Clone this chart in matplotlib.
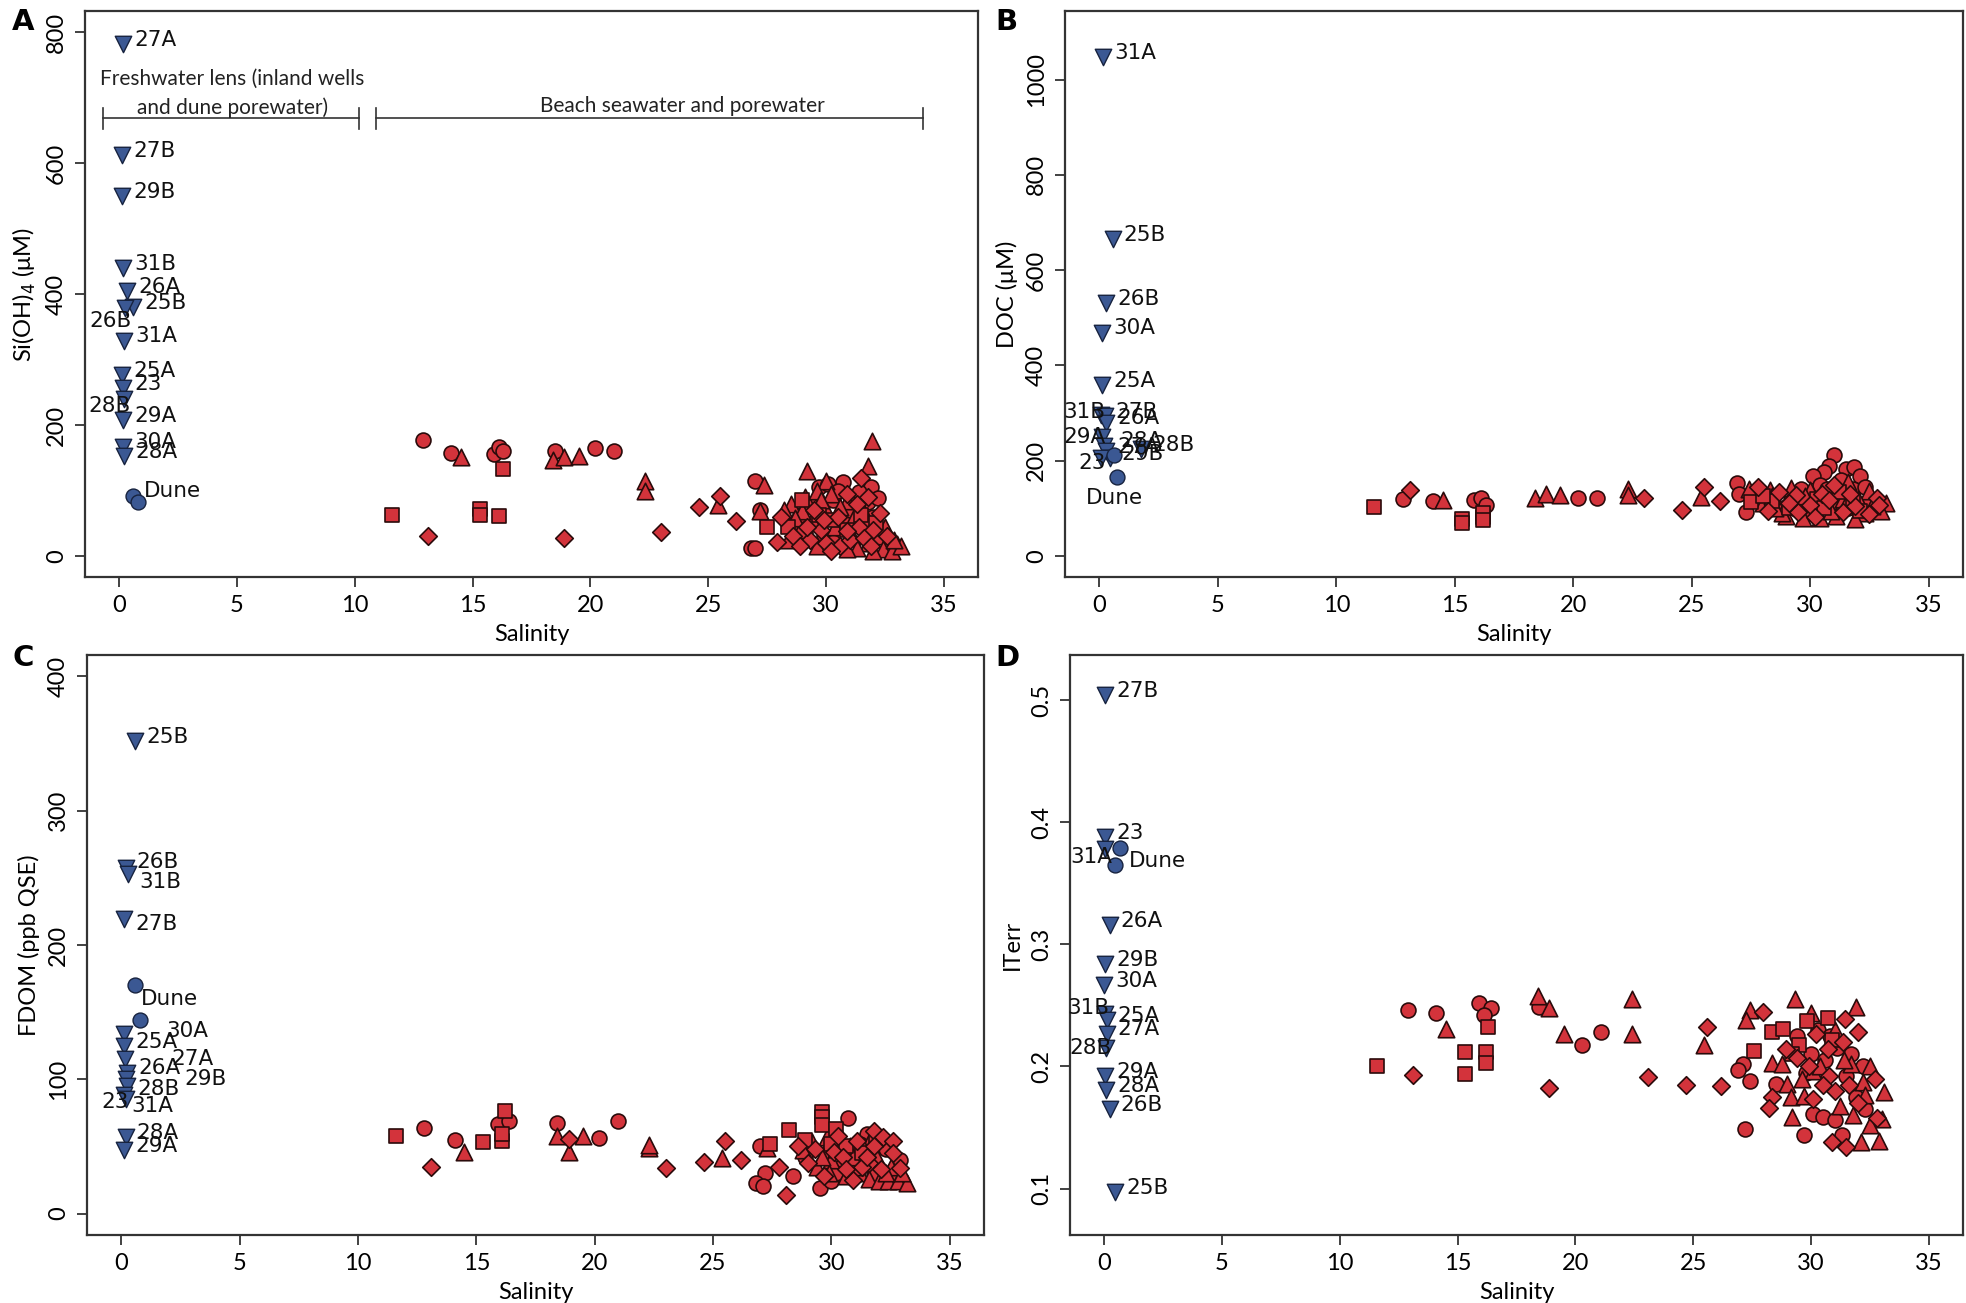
import matplotlib
matplotlib.use("Agg")
import matplotlib.pyplot as plt

# ---- data (salinity, value) ----
# Panel A: Si(OH)4
a_wells = ["27A", "27B", "29B", "31B", "26A", "25B", "26B", "31A", "25A", "23", "28B", "29A", "30A", "28A"]
a_well_sal = [0.16, 0.14, 0.14, 0.18, 0.35, 0.6, 0.25, 0.2, 0.14, 0.18, 0.2, 0.16, 0.16, 0.2]
a_well_val = [782, 612, 549, 439, 404, 380, 378, 329, 276, 256, 240, 208, 167, 153]
a_dune_sal = [0.58, 0.79]
a_dune_val = [91, 83]
a_circles = [(12.9, 177), (14.1, 158), (15.9, 155), (16.1, 166), (16.3, 160), (18.5, 161), (20.2, 165),
             (21.0, 161), (27.0, 114), (27.2, 70), (26.8, 13), (27.0, 13), (29.7, 105), (30.7, 113),
             (31.2, 90), (29.3, 78), (30.3, 85), (31.8, 82), (32.0, 60), (28.7, 50), (30.8, 50),
             (29.9, 30), (31.9, 105), (30.1, 110), (31.0, 70), (28.9, 62), (30.5, 100), (31.4, 98),
             (32.2, 88), (29.1, 35), (30.3, 22), (31.7, 45)]
a_triangles = [(14.5, 151), (18.4, 146), (18.9, 151), (19.5, 152), (22.3, 115), (22.3, 100), (27.35, 108),
               (25.4, 78), (27.2, 68), (29.2, 130), (30.0, 114), (31.95, 175), (31.8, 137), (28.5, 80),
               (29.1, 90), (29.6, 100), (30.2, 95), (30.9, 84), (31.5, 75), (32.2, 30), (32.6, 15),
               (33.0, 18), (32.4, 10), (32.8, 8), (31.8, 20), (30.4, 45), (29.4, 55), (28.9, 40),
               (31.1, 30), (31.7, 55), (28.2, 70), (30.0, 70), (29.0, 68), (31.3, 12), (32.0, 8),
               (28.7, 58), (29.8, 85), (30.6, 75), (31.2, 60), (32.5, 45), (33.2, 15), (32.9, 25),
               (30.9, 10), (29.6, 15), (28.4, 25)]
a_squares = [(16.3, 133), (11.6, 63), (15.3, 72), (15.3, 63), (16.1, 61), (27.5, 45), (29.0, 85),
             (30.3, 55), (31.5, 62), (28.4, 45), (32.1, 50), (30.9, 40), (29.7, 62)]
a_diamonds = [(13.1, 30), (18.9, 27), (23.0, 37), (24.6, 75), (25.5, 92), (26.2, 53), (27.9, 22),
              (31.5, 119), (28.1, 60), (28.6, 30), (29.3, 25), (30.0, 20), (30.6, 15), (31.0, 25),
              (29.8, 40), (30.5, 60), (31.4, 45), (32.0, 40), (29.5, 70), (28.9, 15), (31.8, 90),
              (30.9, 95), (32.3, 65), (31.6, 28), (29.9, 55), (30.9, 38), (31.9, 15), (32.6, 30),
              (29.2, 45), (30.2, 8), (31.3, 80)]

# Panel B: DOC
b_wells = ["31A", "25B", "26B", "30A", "25A", "31B", "27B", "26A", "29A", "28A", "28B", "27A", "29B", "23"]
b_well_sal = [0.17, 0.56, 0.28, 0.11, 0.11, 0.08, 0.22, 0.3, 0.1, 0.2, 1.75, 0.28, 0.45, 0.08]
b_well_val = [1047, 666, 531, 469, 358, 297, 293, 280, 250, 232, 225, 220, 205, 205]
b_dune_sal = [0.6, 0.76]
b_dune_val = [212, 165]
b_circles = [(12.8, 120), (14.1, 115), (15.8, 117), (16.1, 121), (16.3, 108), (20.2, 121), (21.0, 121),
             (26.9, 154), (27.0, 131), (27.3, 92), (31.0, 212), (30.8, 190), (31.5, 183), (31.85, 186),
             (30.6, 176), (30.1, 168), (32.1, 168), (30.4, 150), (31.3, 160), (29.6, 140), (31.8, 140),
             (30.9, 125), (29.2, 118), (32.4, 110), (28.6, 100), (30.2, 95), (31.6, 100), (29.9, 115),
             (31.1, 105), (32.3, 145), (30.7, 140), (29.4, 98)]
b_triangles = [(14.5, 117), (18.4, 122), (18.85, 131), (19.45, 128), (22.3, 140), (22.3, 128), (25.4, 124),
               (27.4, 140), (28.3, 138), (29.2, 142), (30.0, 138), (31.6, 155), (32.5, 136), (33.2, 111),
               (32.3, 90), (29.9, 93), (29.0, 83), (28.0, 112), (30.6, 110), (31.1, 85), (29.5, 108),
               (32.8, 100), (31.9, 78), (30.4, 80), (28.8, 90), (31.4, 120), (32.0, 120), (29.8, 125),
               (33.0, 95), (28.5, 100), (29.7, 80), (30.9, 95), (32.6, 105), (31.5, 110), (28.4, 125)]
b_squares = [(11.6, 102), (15.3, 78), (15.3, 69), (16.2, 81), (16.2, 90), (16.2, 76), (27.5, 113),
             (28.4, 115), (30.3, 120), (31.2, 135), (29.1, 100), (32.1, 95), (28.0, 125), (30.6, 100),
             (31.8, 115)]
b_diamonds = [(13.1, 138), (23.0, 121), (24.6, 97), (25.5, 145), (26.2, 116), (27.8, 145), (28.7, 135),
              (31.0, 149), (31.4, 93), (32.8, 121), (29.4, 128), (30.5, 130), (28.2, 95), (31.9, 105),
              (30.0, 108), (32.5, 88), (29.5, 92), (29.1, 112), (30.8, 118), (31.7, 130), (32.9, 108),
              (30.2, 82)]

# Panel C: FDOM
c_wells = ["25B", "26B", "31B", "27B", "30A", "25A", "27A", "26A", "29B", "28B", "23", "31A", "28A", "29A"]
c_well_sal = [0.58, 0.18, 0.28, 0.13, 0.13, 0.13, 0.17, 0.25, 0.2, 0.22, 0.12, 0.2, 0.18, 0.13]
c_well_val = [352, 257, 253, 219, 134, 125, 115, 105, 100, 95, 88, 85, 57, 47]
c_dune_sal = [0.58, 0.79]
c_dune_val = [170, 144]
c_circles = [(12.8, 64), (14.1, 55), (15.9, 67), (16.4, 68.6), (18.4, 67.6), (20.2, 56), (21.0, 69),
             (27.0, 50), (27.2, 30), (26.8, 22.6), (27.1, 20.6), (28.4, 28), (29.5, 19), (30.0, 24),
             (30.7, 71), (31.5, 59), (29.8, 45), (31.0, 40), (32.3, 48), (30.4, 35), (31.8, 30),
             (28.9, 42), (32.9, 40), (31.2, 52), (30.2, 30), (32.6, 27)]
c_triangles = [(14.5, 46), (18.4, 58), (19.5, 58), (18.9, 46), (22.3, 48.6), (22.3, 51), (25.4, 41.5),
               (27.3, 49), (29.2, 53), (31.7, 58), (29.8, 57), (30.0, 40), (30.8, 50), (31.2, 30),
               (31.6, 26), (32.0, 24), (32.4, 24), (32.8, 24), (33.2, 23), (31.9, 43), (29.4, 35),
               (30.6, 28), (28.8, 47), (32.5, 35), (31.4, 48), (33.0, 30), (29.9, 30), (30.2, 48),
               (31.0, 35), (32.3, 30), (29.6, 42), (30.9, 42)]
c_squares = [(11.6, 58), (15.3, 53.5), (16.2, 76.5), (16.1, 54), (16.1, 59), (27.4, 52), (28.2, 62),
             (29.6, 75.7), (29.6, 72), (29.6, 65.6), (30.2, 63), (28.9, 55), (30.6, 50), (31.3, 45),
             (31.9, 55), (30.0, 52)]
c_diamonds = [(13.1, 35), (18.9, 55.5), (23.0, 34), (24.6, 38.5), (25.5, 54), (26.2, 40), (27.8, 35),
              (28.1, 14), (30.3, 57.5), (31.1, 54), (31.8, 61.8), (32.2, 57), (32.6, 54), (29.0, 38),
              (30.1, 46), (31.6, 38), (32.1, 33), (30.9, 25), (29.7, 28), (32.6, 45), (31.3, 35),
              (28.6, 50), (30.5, 42), (30.6, 33), (31.8, 50), (29.3, 48), (32.9, 34), (31.5, 42)]

# Panel D: ITerr
d_wells = ["27B", "23", "31A", "26A", "29B", "30A", "31B", "25A", "27A", "28B", "29A", "28A", "26B", "25B"]
d_well_sal = [0.03, 0.03, 0.05, 0.23, 0.03, 0.0, 0.03, 0.1, 0.1, 0.06, 0.03, 0.07, 0.23, 0.47]
d_well_val = [0.504, 0.388, 0.378, 0.316, 0.284, 0.267, 0.243, 0.238, 0.227, 0.215, 0.192, 0.181, 0.165, 0.097]
d_dune_sal = [0.68, 0.47]
d_dune_val = [0.379, 0.365]
d_circles = [(12.9, 0.246), (14.1, 0.244), (15.9, 0.252), (16.4, 0.248), (16.1, 0.242), (18.45, 0.249),
             (20.3, 0.218), (21.1, 0.228), (27.1, 0.202), (26.9, 0.197), (27.4, 0.188), (27.2, 0.149),
             (28.5, 0.186), (29.7, 0.144), (30.1, 0.161), (30.5, 0.159), (31.0, 0.156), (31.3, 0.144),
             (32.2, 0.2), (29.4, 0.225), (30.0, 0.21), (30.6, 0.205), (31.1, 0.215), (29.8, 0.195),
             (31.5, 0.192), (30.3, 0.23), (31.9, 0.175), (32.3, 0.165), (30.8, 0.225), (31.7, 0.21)]
d_triangles = [(14.5, 0.231), (18.4, 0.258), (18.9, 0.248), (19.5, 0.227), (22.4, 0.255), (22.4, 0.227),
               (25.45, 0.218), (27.4, 0.246), (27.25, 0.238), (29.3, 0.255), (30.0, 0.244), (31.9, 0.249),
               (28.35, 0.203), (28.75, 0.202), (29.0, 0.186), (29.15, 0.175), (29.2, 0.159), (29.7, 0.176),
               (31.25, 0.168), (33.1, 0.179), (32.1, 0.138), (32.9, 0.139), (32.2, 0.187), (33.0, 0.157),
               (32.5, 0.152), (30.1, 0.196), (31.7, 0.202), (30.4, 0.2), (31.4, 0.205), (29.6, 0.19),
               (32.5, 0.2), (31.8, 0.16), (31.0, 0.23), (32.3, 0.177)]
d_squares = [(11.6, 0.2), (15.3, 0.212), (16.2, 0.212), (16.2, 0.203), (15.3, 0.194), (16.3, 0.232),
             (27.6, 0.213), (28.35, 0.228), (28.8, 0.231), (30.7, 0.24), (29.85, 0.237), (29.5, 0.218),
             (29.2, 0.21), (30.9, 0.222)]
d_diamonds = [(13.1, 0.193), (18.9, 0.182), (23.1, 0.191), (24.7, 0.185), (26.2, 0.184), (25.6, 0.232),
              (27.95, 0.245), (28.35, 0.175), (28.2, 0.166), (30.1, 0.173), (31.0, 0.18), (30.9, 0.138),
              (31.5, 0.134), (31.45, 0.239), (32.0, 0.228), (32.7, 0.19), (32.0, 0.17), (28.95, 0.214),
              (29.4, 0.207), (30.7, 0.214), (31.35, 0.22), (30.2, 0.227), (30.75, 0.192), (32.8, 0.158),
              (31.6, 0.185), (29.9, 0.2), (30.5, 0.185)]

# ---- label placement (offset in points, alignment) ----
R = (8, 3, "left")
a_lab = {"26B": (5, -9, "right"), "28B": (5, -5, "right")}
b_lab = {"31B": (3, 2, "right"), "29A": (3, 0, "right"), "23": (3, -3, "right"), "28A": (12, 3, "left")}
c_lab = {"26B": (8, 5, "left"), "31B": (8, -6, "left"), "27B": (8, -3, "left"), "30A": (30, 2, "left"),
         "27A": (33, 0, "left"), "29B": (42, 0, "left"), "28B": (8, -2, "left"),
         "23": (3, -5, "right"), "31A": (4, -5, "left")}
d_lab = {"31A": (5, -6, "right"), "31B": (3, 4, "right"), "28B": (4, 0, "right")}

RED = "#d3333b"
RED_EDGE = "#2a0b0b"
BLUE = "#3b5893"
BLUE_EDGE = "#17233f"
AXFONT = ["Lato", "DejaVu Sans"]

fig = plt.figure(figsize=(19.66, 13.03), dpi=100)
W, H = 1966, 1303


def box(l, t, r, b):
    return [l / W, 1 - b / H, (r - l) / W, (b - t) / H]


def panel(pos, circles, tris, squares, diamonds, wells, wsal, wval, dsal, dval, lab, ylim, yticks, ylabel):
    ax = fig.add_axes(pos)
    for pts, m, s in [(circles, "o", 115), (tris, "^", 140), (squares, "s", 95), (diamonds, "D", 80)]:
        x = [p[0] for p in pts]
        y = [p[1] for p in pts]
        ax.scatter(x, y, marker=m, s=s, c=RED, edgecolors=RED_EDGE, linewidths=1.2, zorder=3)
    ax.scatter(wsal, wval, marker="v", s=140, c=BLUE, edgecolors=BLUE_EDGE, linewidths=1.0, zorder=4)
    ax.scatter(dsal, dval, marker="o", s=115, c=BLUE, edgecolors=BLUE_EDGE, linewidths=1.0, zorder=4)
    for name, x, y in zip(wells, wsal, wval):
        dx, dy, ha = lab.get(name, R)
        ax.annotate(name, (x, y), xytext=(dx, dy), textcoords="offset points",
                    ha=ha, va="center", fontsize=15.5, color="#111111", zorder=5)
    ax.set_xlim(-1.45, 36.45)
    ax.set_ylim(*ylim)
    ax.set_xticks([0, 5, 10, 15, 20, 25, 30, 35])
    ax.set_yticks(yticks)
    ax.tick_params(labelsize=17, length=7, width=1.3, color="#333333", pad=6)
    for lbl in ax.get_xticklabels() + ax.get_yticklabels():
        lbl.set_family(AXFONT)
    for lbl in ax.get_yticklabels():
        lbl.set_rotation(90)
        lbl.set_va("center")
    for sp in ax.spines.values():
        sp.set_color("#333333")
        sp.set_linewidth(1.6)
    ax.set_ylabel(ylabel, fontsize=17, labelpad=6, family=AXFONT)
    ax.set_xlabel("Salinity", fontsize=17, labelpad=6, family=AXFONT)
    return ax


axA = panel(box(85, 11, 978, 577), a_circles, a_triangles, a_squares, a_diamonds,
            a_wells, a_well_sal, a_well_val, a_dune_sal, a_dune_val, a_lab,
            (-32, 832), [0, 200, 400, 600, 800], "Si(OH)$_4$ (μM)")
axA.annotate("Dune", (a_dune_sal[0], a_dune_val[0]), xytext=(8, 4), textcoords="offset points",
             ha="left", va="center", fontsize=15.5, color="#111111")
# group brackets
for x0, x1 in [(-0.7, 10.2), (10.9, 34.1)]:
    axA.plot([x0, x1], [668, 668], color="#333333", lw=1.2)
    axA.plot([x0, x0], [652, 684], color="#333333", lw=1.2)
    axA.plot([x1, x1], [652, 684], color="#333333", lw=1.2)
axA.text(4.8, 728, "Freshwater lens (inland wells", ha="center", va="center", fontsize=15, color="#222222", family=AXFONT)
axA.text(4.8, 685, "and dune porewater)", ha="center", va="center", fontsize=15, color="#222222", family=AXFONT)
axA.text(23.9, 687, "Beach seawater and porewater", ha="center", va="center", fontsize=15, color="#222222", family=AXFONT)

axB = panel(box(1065, 11, 1963, 577), b_circles, b_triangles, b_squares, b_diamonds,
            b_wells, b_well_sal, b_well_val, b_dune_sal, b_dune_val, b_lab,
            (-44, 1144), [0, 200, 400, 600, 800, 1000], "DOC (μM)")
axB.annotate("Dune", (b_dune_sal[1], b_dune_val[1]), xytext=(-2, -15), textcoords="offset points",
             ha="center", va="center", fontsize=15.5, color="#111111")

axC = panel(box(87, 655, 984, 1235), c_circles, c_triangles, c_squares, c_diamonds,
            c_wells, c_well_sal, c_well_val, c_dune_sal, c_dune_val, c_lab,
            (-16, 416), [0, 100, 200, 300, 400], "FDOM (ppb QSE)")
axC.annotate("Dune", (c_dune_sal[0], c_dune_val[0]), xytext=(4, -10), textcoords="offset points",
             ha="left", va="center", fontsize=15.5, color="#111111")

axD = panel(box(1070, 655, 1963, 1235), d_circles, d_triangles, d_squares, d_diamonds,
            d_wells, d_well_sal, d_well_val, d_dune_sal, d_dune_val, d_lab,
            (0.062, 0.537), [0.1, 0.2, 0.3, 0.4, 0.5], "ITerr")
axD.annotate("Dune", (d_dune_sal[1], d_dune_val[1]), xytext=(10, 3), textcoords="offset points",
             ha="left", va="center", fontsize=15.5, color="#111111")

for letter, x, y in [("A", 12, 22), ("B", 995, 22), ("C", 12, 658), ("D", 995, 658)]:
    fig.text(x / W, 1 - y / H, letter, fontsize=21, fontweight="bold", ha="left", va="center")

fig.savefig("out.png", dpi=100, facecolor="white")
